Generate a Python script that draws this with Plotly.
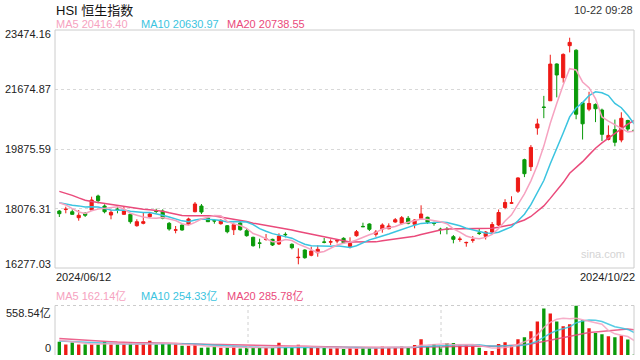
import plotly.graph_objects as go

# ---------------- data ----------------
first_date = "2024/06/12"
last_date = "2024/10/22"
stamp = "10-22 09:28"

opens = [18000, 18045, 17979, 17798, 17931, 18031, 18454, 18152, 17880, 18060,
         17900, 17900, 17556, 17628, 17828, 17995, 18000, 17628, 17420, 17577,
         17598, 17979, 18152, 17789, 17710, 17617, 17556, 17435, 17638, 17405,
         17205, 17035, 17140, 17144, 17002, 17295, 16993, 16590, 16821, 16661,
         16739, 17065, 17060, 17095, 17175, 16921, 17254, 17535, 17608, 17296,
         17456, 17465, 17668, 17628, 17780, 17598, 17780, 17810, 17635, 17452,
         17450, 17224, 17140, 17040, 17118, 17335, 17235, 17365, 17577, 18107,
         18237, 18598, 19552, 19342, 20511, 21145, 21334, 22447, 22032, 23000,
         22862, 21272, 21080, 21223, 21054, 20166, 20463, 20148, 20738, 20445]
highs = [18031, 18132, 18052, 18031, 17970, 18433, 18494, 18203, 18031, 18152,
         18132, 17931, 17750, 17949, 17940, 18070, 18052, 17668, 17547, 17598,
         17798, 18273, 18212, 17828, 17759, 17750, 17577, 17647, 17677, 17465,
         17224, 17163, 17305, 17163, 17326, 17356, 17023, 16872, 16842, 16921,
         16963, 17184, 17144, 17154, 17205, 17205, 17426, 17647, 17628, 17426,
         17628, 17628, 17789, 17849, 17849, 17750, 18173, 17828, 17677, 17495,
         17516, 17275, 17224, 17072, 17244, 17456, 17395, 17668, 18046, 18358,
         18447, 19021, 19582, 19995, 20792, 21482, 22726, 22465, 22767, 23241,
         22892, 21290, 21606, 21253, 21096, 20589, 20765, 20986, 20759, 20450]
lows = [17819, 17931, 17888, 17707, 17819, 18010, 18233, 17931, 17750, 17931,
        17888, 17617, 17526, 17598, 17798, 17931, 17750, 17405, 17326, 17405,
        17577, 17961, 17910, 17668, 17617, 17587, 17326, 17275, 17405, 17224,
        16921, 16872, 17102, 16942, 16972, 17205, 16842, 16389, 16558, 16631,
        16618, 17023, 16972, 17023, 17002, 16872, 17224, 17516, 17395, 17224,
        17344, 17447, 17647, 17577, 17598, 17477, 17728, 17608, 17556, 17296,
        17296, 17023, 17072, 16921, 17042, 17275, 17138, 17326, 17547, 18055,
        18214, 18546, 19026, 19209, 20308, 20808, 21334, 21437, 21881, 22797,
        20775, 20163, 21019, 20688, 20116, 20136, 19958, 20078, 20406, 20425]
closes = [17919, 18055, 17900, 17871, 17871, 18333, 18312, 17979, 17961, 18045,
          18010, 17677, 17677, 17677, 17910, 17985, 17780, 17456, 17430, 17426,
          17759, 18212, 17970, 17677, 17698, 17719, 17374, 17587, 17435, 17254,
          16951, 17025, 17150, 16972, 17244, 17285, 16891, 16600, 16588, 16791,
          16842, 17055, 17070, 17105, 17042, 17023, 17374, 17525, 17447, 17365,
          17577, 17547, 17737, 17798, 17628, 17728, 17910, 17659, 17625, 17442,
          17440, 17144, 17150, 17050, 17128, 17325, 17365, 17592, 17955, 18258,
          18247.11, 19000.56, 19129.10, 19924.58, 20632.30, 21133.68, 22443.73, 22113.51, 22736.87, 23099.80,
          20926.79, 20637.24, 21251.98, 21092.87, 20318.79, 20286.87, 20079.10, 20804.11, 20478.46, 20433.48]
# turnover, 亿
volumes = [149, 119, 141, 119, 119, 119, 119, 149, 119, 119,
           119, 141, 119, 126, 160, 119, 130, 130, 119, 104,
           104, 123, 82, 86, 97, 82, 86, 97, 74, 86,
           86, 86, 78, 86, 138, 86, 86, 115, 86, 86,
           86, 86, 74, 80, 67, 82, 82, 82, 82, 82,
           93, 82, 82, 93, 82, 112, 179, 93, 123, 100,
           134, 134, 108, 112, 104, 82, 45, 45, 123, 145,
           104, 179, 201, 268, 378, 525, 468, 379, 324, 346.3,
           558.54, 391, 301, 249, 233.06, 212, 201, 219, 176, 2.7]
# sessions before the window (only used to warm up the moving averages)
prior_closes = [19100, 19250, 19400, 19300, 19050, 18950, 18700, 18550, 18600, 18460,
                18480, 18230, 18080, 18240, 18230, 18400, 18450, 18380, 18111]
prior_volumes = [230, 220, 240, 210, 200, 215, 205, 210, 206, 205,
                 160, 140, 150, 145, 155, 170, 165, 180, 165]

price_ticks = [23474.16, 21674.87, 19875.59, 18076.31, 16277.03]
vol_top = 558.54

# ---------------- helpers ----------------
def moving_avg(vals, prior, w):
    full = list(prior) + list(vals)
    k = len(prior)
    return [sum(full[i - w + 1:i + 1]) / w for i in range(k, len(full))]

n = len(closes)
xs = list(range(n))
ma5, ma10, ma20 = (moving_avg(closes, prior_closes, w) for w in (5, 10, 20))
vma5, vma10, vma20 = (moving_avg(volumes, prior_volumes, w) for w in (5, 10, 20))

RED = "#EE1A16"
GREEN = "#0A9A0A"
C5 = "#F6A2C0"
C10 = "#3BC4E0"
C20 = "#EA4A7B"
FONT = "Liberation Sans, Arial, Noto Sans CJK SC, sans-serif"

W, H = 640, 360
L, R, T, B = 55, 6, 30, 5
PW, PH = W - L - R, H - T - B

def px(xp):
    return (xp - L) / PW

def py(yp):
    return (H - B - yp) / PH

main_dom = [py(268), 1.0]
vol_dom = [0.0, py(305.5)]
xr = [-0.67, n - 1.04]

fig = go.Figure()
fig.add_trace(go.Candlestick(
    x=xs, open=opens, high=highs, low=lows, close=closes,
    increasing=dict(line=dict(color=RED, width=1), fillcolor=RED),
    decreasing=dict(line=dict(color=GREEN, width=1), fillcolor=GREEN),
    whiskerwidth=0, xaxis="x", yaxis="y"))
for ys, c in ((ma20, C20), (ma10, C10), (ma5, C5)):
    fig.add_trace(go.Scatter(x=xs, y=ys, mode="lines", line=dict(color=c, width=1.5),
                             xaxis="x", yaxis="y", hoverinfo="skip"))

bar_colors = [RED if c >= o else GREEN for o, c in zip(opens, closes)]
fig.add_trace(go.Bar(x=xs, y=volumes, marker=dict(color=bar_colors, line=dict(width=0)),
                     width=0.52, xaxis="x2", yaxis="y2"))
for ys, c in ((vma20, C20), (vma10, C10), (vma5, C5)):
    fig.add_trace(go.Scatter(x=xs, y=ys, mode="lines", line=dict(color=c, width=1.5),
                             opacity=0.85, xaxis="x2", yaxis="y2", hoverinfo="skip"))

fig.update_layout(
    width=W, height=H, margin=dict(l=L, r=R, t=T, b=B),
    paper_bgcolor="white", plot_bgcolor="white", showlegend=False,
    font=dict(family=FONT, size=11, color="#222"),
    xaxis=dict(domain=[0, 1], range=xr, showticklabels=False, showgrid=False,
               zeroline=False, rangeslider=dict(visible=False), anchor="y", fixedrange=True),
    yaxis=dict(domain=main_dom, range=[price_ticks[-1], price_ticks[0]],
               tickvals=price_ticks[1:-1], showticklabels=False, showgrid=True,
               gridcolor="#D8D8D8", griddash="dot", gridwidth=1, zeroline=False,
               anchor="x", fixedrange=True),
    xaxis2=dict(domain=[0, 1], range=xr, showticklabels=False, showgrid=False,
                zeroline=False, anchor="y2", fixedrange=True),
    yaxis2=dict(domain=vol_dom, range=[0, vol_top], showticklabels=False,
                showgrid=False, zeroline=False, anchor="x2", fixedrange=True),
)

border = "#CCCCCC"
shapes = [
    dict(type="rect", xref="paper", yref="paper", x0=0, x1=1, y0=main_dom[0], y1=1,
         line=dict(color=border, width=1)),
    dict(type="line", xref="paper", yref="paper", x0=0, x1=0, y0=0, y1=vol_dom[1],
         line=dict(color=border, width=1)),
    dict(type="line", xref="paper", yref="paper", x0=1, x1=1, y0=0, y1=vol_dom[1],
         line=dict(color=border, width=1)),
    dict(type="line", xref="paper", yref="paper", x0=0, x1=1, y0=vol_dom[1], y1=vol_dom[1],
         line=dict(color=border, width=1, dash="dot")),
]
for fx in (1 / 3, 2 / 3):
    shapes.append(dict(type="line", xref="paper", yref="paper", x0=fx, x1=fx, y0=0,
                       y1=vol_dom[1], line=dict(color="#D0D0D0", width=1, dash="dot")))
fig.update_layout(shapes=shapes)

ann = []
def text(s, x, y, anchor="left", color="#222", size=11, yanchor="middle"):
    ann.append(dict(text=s, x=px(x), y=py(y), xref="paper", yref="paper",
                    xanchor=anchor, yanchor=yanchor, showarrow=False,
                    font=dict(family=FONT, size=size, color=color)))

text("HSI 恒生指数", 54, 10, size=13, color="#111")
text(stamp, 635, 10, anchor="right", color="#333")
text(f"MA5 {ma5[-1]:.2f}", 54, 24, color=C5)
text(f"MA10 {ma10[-1]:.2f}", 139, 24, color=C10)
text(f"MA20 {ma20[-1]:.2f}", 225, 24, color=C20)

label_y = [34, 89.5, 149, 208.5, 264]
for v, yy in zip(price_ticks, label_y):
    text(f"{v:.2f}", 53, yy, anchor="right")

text(first_date, 54, 277)
text(last_date, 637, 277, anchor="right")
text("sina.com", 603, 254, anchor="center", color="#D4D4D4", size=11)

text(f"MA5 {vma5[-1]:.2f}亿", 54, 296, color=C5)
text(f"MA10 {vma10[-1]:.2f}亿", 139, 296, color=C10)
text(f"MA20 {vma20[-1]:.2f}亿", 225, 296, color=C20)
text(f"{vol_top:.2f}亿", 53, 313, anchor="right")
text("0", 53, 348, anchor="right")

fig.update_layout(annotations=ann)
fig.write_html("out.html", config={"displayModeBar": False},
               post_script="document.body.style.margin='0px';document.body.style.overflow='hidden';")
